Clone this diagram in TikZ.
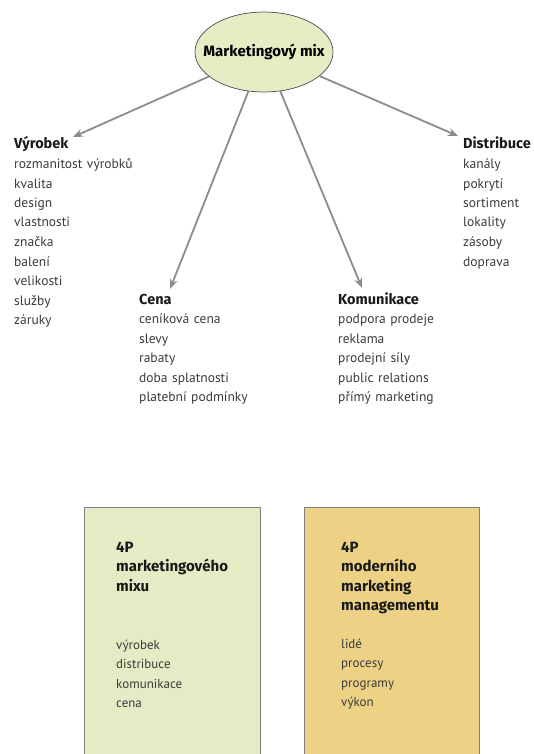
\documentclass[tikz,border=0pt]{standalone}
\usepackage{fontspec}
\setmainfont{PT Sans}
\newfontfamily\headfont{Fira Sans}
\usepackage{tikz}
\usetikzlibrary{positioning,arrows.meta,shapes.geometric}

\definecolor{mixfill}{HTML}{E6ECC4}
\definecolor{oldfill}{HTML}{E5EBC4}
\definecolor{newfill}{HTML}{EDD185}
\definecolor{itemgray}{HTML}{3A3A3A}
\definecolor{arrowgray}{HTML}{8C8C8C}

\begin{document}
\begin{tikzpicture}[x=1pt, y=-1pt, anchor=base west, inner sep=0pt,
    head/.style={font=\headfont\bfseries\fontsize{14.5}{19.5}\selectfont, text=black!90, text width=150pt, align=left},
    boxhead/.style={head, font=\headfont\bfseries\fontsize{15}{19.5}\selectfont},
    items/.style={font=\fontsize{13.5}{19.5}\selectfont, text=itemgray, text width=150pt, align=left},
    boxitems/.style={items, font=\fontsize{13}{19.5}\selectfont},
    link/.style={-{Stealth[length=10pt,width=8pt]}, arrowgray, line width=1.8pt},
    box/.style={draw=gray, line width=0.8pt, anchor=north west}]
  \useasboundingbox (0,0) rectangle (533,754);

  % bottom boxes
  \node[box, fill=oldfill, minimum width=176pt, minimum height=260pt] (oldbox) at (84,507) {};
  \node[box, fill=newfill, minimum width=175pt, minimum height=260pt] (newbox) at (304,507) {};

  % centre
  \node[ellipse, draw=black!70, fill=mixfill, line width=0.7pt, minimum width=138pt, minimum height=80pt,
        anchor=center, label={[font=\headfont\bfseries\fontsize{15}{18}\selectfont]center:Marketingový mix}] (mix) at (264,52) {};

  % the four P
  \node[head] (vyrobek) at (14,149) {Výrobek};
  \node[items] (vyrobekitems) at (14,168.5) {rozmanitost výrobků\\kvalita\\design\\vlastnosti\\značka\\balení\\velikosti\\služby\\záruky};
  \node[head] (cena) at (139,304) {Cena};
  \node[items] (cenaitems) at (139,323.5) {ceníková cena\\slevy\\rabaty\\doba splatnosti\\platební podmínky};
  \node[head] (komunikace) at (338,304) {Komunikace};
  \node[items] (komunikaceitems) at (338,323.5) {podpora prodeje\\reklama\\prodejní síly\\public relations\\přímý marketing};
  \node[head] (distribuce) at (463,149) {Distribuce};
  \node[items] (distribuceitems) at (463,168.5) {kanály\\pokrytí\\sortiment\\lokality\\zásoby\\doprava};

  \draw[link] (mix) -- ([shift={(59pt,12pt)}]vyrobek.base west);
  \draw[link] (mix) -- ([shift={(31pt,15pt)}]cena.base west);
  \draw[link] (mix) -- ([shift={(24pt,16pt)}]komunikace.base west);
  \draw[link] (mix) -- ([shift={(-5pt,13pt)}]distribuce.base west);

  % box texts
  \node[boxhead] (oldhead) at (116,552) {4P\\marketingového\\mixu};
  \node[boxitems] (olditems) at (116,649) {výrobek\\distribuce\\komunikace\\cena};
  \node[boxhead] (newhead) at (341,552) {4P\\moderního\\marketing\\managementu};
  \node[boxitems] (newitems) at (341,648) {lidé\\procesy\\programy\\výkon};
\end{tikzpicture}
\end{document}
